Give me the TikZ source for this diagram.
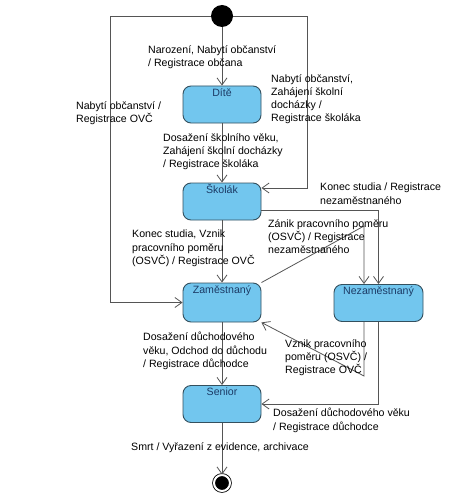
\documentclass[tikz,border=0pt]{standalone}
\usepackage{fontspec}
\setmainfont{Liberation Sans}
\usetikzlibrary{arrows.meta}
\definecolor{statefill}{HTML}{72C6EE}
\definecolor{stateline}{HTML}{34505E}
\definecolor{statetext}{HTML}{1C3B66}
\definecolor{wire}{HTML}{555555}
\tikzset{
  state/.style={shape=rectangle,rounded corners=8pt,draw=stateline,fill=statefill,line width=0.9pt,
    minimum width=78pt,text height=8pt,text depth=25pt,inner sep=2pt,text=statetext},
  trans/.style={->,draw=wire,line width=0.8pt},
  lbl/.style={anchor=north west,align=left,inner sep=0pt},
  >={Straight Barb[length=7pt,width=10pt]}
}
\begin{document}
\begin{tikzpicture}[x=1pt,y=-1pt,font=\fontsize{10.6}{13.3}\selectfont]
\useasboundingbox (0,0) rectangle (473,500);
\node[shape=circle,fill=black,minimum size=22pt,inner sep=0pt] (0) at (222,16) {};
\node[state] (1) at (222,104.5) {Dítě};
\node[state] (2) at (222,201.5) {Školák};
\node[state,text depth=27pt] (3) at (222,302.5) {Zaměstnaný};
\node[state,minimum width=89pt] (4) at (378.5,303) {Nezaměstnaný};
\node[state] (5) at (222,404) {Senior};
\node[shape=circle,draw=black,fill=black,double=white,double distance=2pt,line width=0.8pt,minimum size=16pt,inner sep=0pt] (6) at (222,483) {};

\coordinate (a) at (110,16);
\coordinate (b) at (307,188);
\coordinate (c) at (378.5,210);
\coordinate (d) at (364,226);
\coordinate (e) at (364,376);

\path [trans] (0) edge (1);
\path [trans] (1) edge (2);
\path [trans] (2) edge (3);
\path [trans] (3) edge (5);
\path [trans] (5) edge (6);
\path [trans] (0.west) -- (a) |- (3.west);
\path [trans] (0.east) -| (b) -- (2.east |- b);
\path [trans] (2.east |- c) -| (4.north);
\path [trans] (3.north east) -- (d) -- (4.north -| d);
\path [trans] (4.south -| e) -- (e) -- (3.south east);
\path [trans] (4.south) |- (5.east);

\node[lbl] (l1) at (148,45) {Narození, Nabytí občanství\\/ Registrace občana};
\node[lbl] (l2) at (271,74) {Nabytí občanství,\\Zahájení školní\\docházky /\\Registrace školáka};
\node[lbl] (l3) at (76,101) {Nabytí občanství /\\Registrace OVČ};
\node[lbl] (l4) at (163,133) {Dosažení školního věku,\\Zahájení školní docházky\\/ Registrace školáka};
\node[lbl] (l5) at (320,183) {Konec studia / Registrace\\nezaměstnaného};
\node[lbl] (l6) at (268,219) {Zánik pracovního poměru\\(OSVČ) / Registrace\\nezaměstnaného};
\node[lbl] (l7) at (132,230) {Konec studia, Vznik\\pracovního poměru\\(OSVČ) / Registrace OVČ};
\node[lbl] (l8) at (143,332) {Dosažení důchodového\\věku, Odchod do důchodu\\/ Registrace důchodce};
\node[lbl] (l9) at (285,339) {Vznik pracovního\\poměru (OSVČ) /\\Registrace OVČ};
\node[lbl] (l10) at (273,408) {Dosažení důchodového věku\\/ Registrace důchodce};
\node[lbl] (l11) at (131,442) {Smrt / Vyřazení z evidence, archivace};
\end{tikzpicture}
\end{document}
